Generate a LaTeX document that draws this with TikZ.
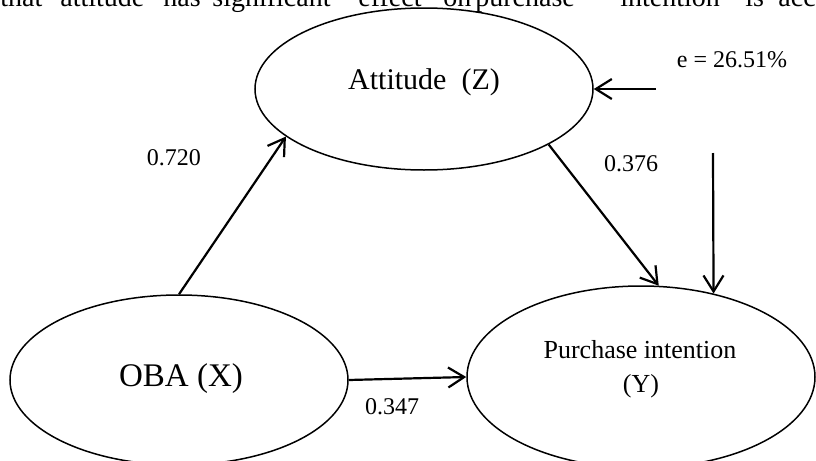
\documentclass[tikz,border=0pt]{standalone}
\usepackage{fontspec}
\setmainfont{Liberation Serif}
\usetikzlibrary{arrows.meta,shapes.geometric}

\begin{document}
\begin{tikzpicture}[x=0.5pt,y=-0.5pt]

\tikzstyle{latent}=[draw,ellipse,line width=0.75pt,inner sep=0pt]
\tikzstyle{link}=[draw,line width=1.1pt,-{Straight Barb[length=8pt,width=10pt,line width=1.1pt]}]
\tikzstyle{coef}=[font=\fontsize{12}{14}\selectfont,inner sep=0pt]
\tikzstyle{body}=[font=\fontsize{14}{17}\selectfont,anchor=base west,inner sep=0pt]

\useasboundingbox (0,0) rectangle (816,461);
\clip (0,0) rectangle (816,461);

\foreach \w/\x [count=\i] in {that/0, attitude/60, has/163, significant/212, effect/358, on/443, purchase/475, intention/620, is/745, acc/778}
{
  \node[body] (w\i) at (\x,6) {\w};
}

\node[latent,minimum width=169pt,minimum height=81pt] (att) at (424,89) {};
\node[latent,minimum width=169pt,minimum height=85pt] (oba) at (179,380) {};
\node[latent,minimum width=174pt,minimum height=91pt] (purch) at (641,377) {};

\node[anchor=base,font=\fontsize{15}{18}\selectfont] (attT) at (424,89) {Attitude\ \ (Z)};
\node[anchor=base,font=\fontsize{16.5}{20}\selectfont] (obaT) at (181,386) {OBA (X)};
\node[anchor=base,font=\fontsize{13}{16}\selectfont] (purchT) at (640,358) {Purchase intention};
\node[anchor=base,font=\fontsize{13}{16}\selectfont] (purchY) at (641,392) {(Y)};

\node[coef] (c1) at (174,158) {0.720};
\node[coef] (c2) at (631,164) {0.376};
\node[coef] (c3) at (392,407) {0.347};
\node[coef] (err) at (732,60) {e = 26.51\%};

\coordinate (eAtt) at (656,89);
\coordinate (ePur) at (713,153);

\path[link] (oba.north) -- (att.199);
\path[link] (att.336) -- (purch.79);
\path[link] (oba.east) -- (purch.west);
\path[link] (eAtt) -- (att.east);
\path[link] (ePur) -- (purch.49);
\end{tikzpicture}
\end{document}
